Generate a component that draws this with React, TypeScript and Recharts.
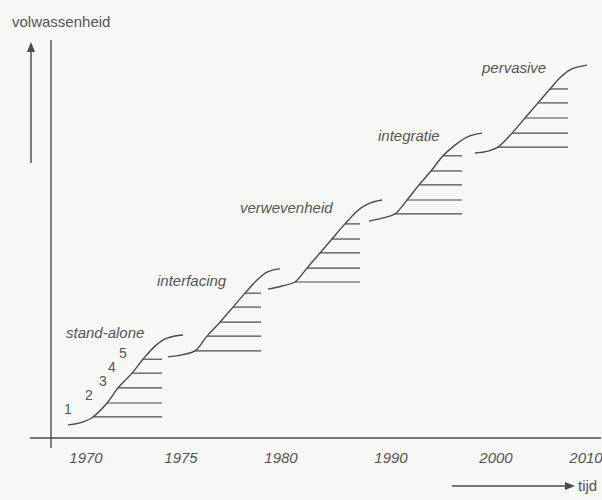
import React from "react";
import {
  LineChart,
  Line,
  XAxis,
  YAxis,
  ReferenceLine,
  ReferenceDot,
} from "recharts";

// x-axis tick positions and their year labels (the time axis is not linear)
const tickPos = [7, 26, 46, 68, 89, 107];
const tickYears = ["1970", "1975", "1980", "1990", "2000", "2010"];

// S-curves of the five stages (position in time, maturity)
const standAlone = [
  { x: 3.4, y: 3.3 }, { x: 5.8, y: 3.8 }, { x: 8.4, y: 5.3 }, { x: 11.2, y: 8.8 },
  { x: 13.4, y: 12.6 }, { x: 16.2, y: 16.3 }, { x: 18.4, y: 19.8 }, { x: 20.8, y: 23.1 },
  { x: 23.2, y: 25.1 }, { x: 26.4, y: 25.9 },
];
const interfacing = [
  { x: 23.4, y: 20.4 }, { x: 26.2, y: 20.9 }, { x: 28.8, y: 21.9 }, { x: 31.2, y: 25.6 },
  { x: 33.8, y: 29.1 }, { x: 36.4, y: 32.9 }, { x: 38.8, y: 36.4 }, { x: 41.2, y: 39.7 },
  { x: 43.2, y: 41.7 }, { x: 45.8, y: 42.5 },
];
const verweving = [
  { x: 43.4, y: 37.4 }, { x: 46.2, y: 38.2 }, { x: 48.8, y: 39.2 }, { x: 51.2, y: 42.7 },
  { x: 53.8, y: 46.5 }, { x: 56.2, y: 50.0 }, { x: 58.8, y: 53.8 }, { x: 61.2, y: 57.0 },
  { x: 63.4, y: 58.8 }, { x: 66.2, y: 59.8 },
];
const integratie = [
  { x: 63.6, y: 54.5 }, { x: 66.4, y: 55.3 }, { x: 68.8, y: 56.3 }, { x: 71.2, y: 59.8 },
  { x: 73.6, y: 63.6 }, { x: 76.0, y: 67.1 }, { x: 78.4, y: 70.9 }, { x: 80.8, y: 73.6 },
  { x: 83.2, y: 75.6 }, { x: 86.2, y: 76.6 },
];
const pervasive = [
  { x: 84.8, y: 71.6 }, { x: 87.4, y: 72.1 }, { x: 89.4, y: 73.1 }, { x: 92.2, y: 76.6 },
  { x: 94.8, y: 80.4 }, { x: 97.4, y: 84.2 }, { x: 99.8, y: 87.7 }, { x: 101.8, y: 90.5 },
  { x: 103.8, y: 92.5 }, { x: 107.2, y: 93.7 },
];

// horizontal steps under each curve: level, start and end
const standAloneSteps = [
  { y: 5.3, from: 8.4, to: 22.2 }, { y: 8.8, from: 11.2, to: 22.2 },
  { y: 12.6, from: 13.4, to: 22.2 }, { y: 16.3, from: 16.2, to: 22.2 },
  { y: 19.8, from: 18.4, to: 22.2 },
];
const interfacingSteps = [
  { y: 21.9, from: 28.8, to: 42 }, { y: 25.6, from: 31.2, to: 42 },
  { y: 29.1, from: 33.8, to: 42 }, { y: 32.9, from: 36.4, to: 42 },
  { y: 36.4, from: 38.8, to: 42 },
];
const verwevingSteps = [
  { y: 39.2, from: 48.8, to: 61.8 }, { y: 42.7, from: 51.2, to: 61.8 },
  { y: 46.5, from: 53.8, to: 61.8 }, { y: 50.0, from: 56.2, to: 61.8 },
  { y: 53.8, from: 58.8, to: 61.8 },
];
const integratieSteps = [
  { y: 56.3, from: 68.8, to: 82.2 }, { y: 59.8, from: 71.2, to: 82.2 },
  { y: 63.6, from: 73.6, to: 82.2 }, { y: 67.1, from: 76.0, to: 82.2 },
  { y: 70.9, from: 78.4, to: 82.2 },
];
const pervasiveSteps = [
  { y: 73.1, from: 89.4, to: 103.4 }, { y: 76.6, from: 92.2, to: 103.4 },
  { y: 80.4, from: 94.8, to: 103.4 }, { y: 84.2, from: 97.4, to: 103.4 },
  { y: 87.7, from: 99.8, to: 103.4 },
];

// stage names and the numbered levels
const stageLabels = [
  { text: "stand-alone", x: 3.0, y: 26.4 },
  { text: "interfacing", x: 21.2, y: 39.4 },
  { text: "verwevenheid", x: 37.8, y: 57.8 },
  { text: "integratie", x: 65.4, y: 75.9 },
  { text: "pervasive", x: 86.2, y: 93.0 },
];
const levelLabels = [
  { text: "1", x: 2.6, y: 7.3 },
  { text: "2", x: 6.8, y: 10.8 },
  { text: "3", x: 9.6, y: 14.3 },
  { text: "4", x: 11.4, y: 17.8 },
  { text: "5", x: 13.6, y: 21.4 },
];

const curves = [standAlone, interfacing, verweving, integratie, pervasive];
const steps = [
  ...standAloneSteps,
  ...interfacingSteps,
  ...verwevingSteps,
  ...integratieSteps,
  ...pervasiveSteps,
];

const ink = "#4a4a4a";
const textInk = "#555";
const font = "'Liberation Sans', Arial, sans-serif";

// text placed to the right of a (zero radius) reference dot
const dotText = (text: string, size: number, italic: boolean) => (props: any) => {
  const vb = props.viewBox || {};
  return (
    <text
      x={vb.x}
      y={vb.y}
      dy="0.35em"
      fill={textInk}
      fontSize={size}
      fontStyle={italic ? "italic" : "normal"}
      fontFamily={font}
    >
      {text}
    </text>
  );
};

export default function App() {
  return (
    <div
      style={{
        position: "absolute",
        left: 0,
        top: 0,
        width: 602,
        height: 500,
        background: "#f7f7f5",
        fontFamily: font,
      }}
    >
      <LineChart
        width={602}
        height={500}
        margin={{ top: 40, right: 1, left: 30, bottom: 22 }}
      >
        <XAxis
          type="number"
          dataKey="x"
          domain={[-4.2, 110]}
          allowDataOverflow
          ticks={tickPos}
          tickFormatter={(v) => tickYears[tickPos.indexOf(v)] ?? ""}
          axisLine={false}
          tickLine={false}
          tickSize={0}
          tickMargin={4}
          interval={0}
          tick={{ fill: textInk, fontSize: 15, fontStyle: "italic", fontFamily: font }}
        />
        <YAxis type="number" domain={[-2.5, 100]} allowDataOverflow hide />

        <ReferenceLine x={0} stroke={ink} strokeWidth={1.4} />
        <ReferenceLine y={0} stroke={ink} strokeWidth={1.4} />

        {steps.map((s, i) => (
          <ReferenceLine
            key={`step-${i}`}
            segment={[
              { x: s.from, y: s.y },
              { x: s.to, y: s.y },
            ]}
            stroke={ink}
            strokeWidth={1.2}
          />
        ))}

        {curves.map((c, i) => (
          <Line
            key={`curve-${i}`}
            data={c}
            dataKey="y"
            type="monotone"
            stroke={ink}
            strokeWidth={1.4}
            dot={false}
            activeDot={false}
            isAnimationActive={false}
          />
        ))}

        {stageLabels.map((l, i) => (
          <ReferenceDot
            key={`stage-${i}`}
            x={l.x}
            y={l.y}
            r={0}
            fill="none"
            stroke="none"
            label={{ content: dotText(l.text, 15, true) }}
          />
        ))}
        {levelLabels.map((l, i) => (
          <ReferenceDot
            key={`level-${i}`}
            x={l.x}
            y={l.y}
            r={0}
            fill="none"
            stroke="none"
            label={{ content: dotText(l.text, 14, false) }}
          />
        ))}
      </LineChart>

      {/* axis arrows and axis names */}
      <svg
        width={602}
        height={500}
        style={{ position: "absolute", left: 0, top: 0, pointerEvents: "none" }}
      >
        <line x1={31} y1={163} x2={31} y2={50} stroke={ink} strokeWidth={1.4} />
        <polygon points="31,42 27,52 35,52" fill={ink} />
        <text x={12} y={27} fontSize={15} fill={textInk} fontFamily={font}>
          volwassenheid
        </text>
        <line x1={452} y1={486} x2={567} y2={486} stroke={ink} strokeWidth={1.4} />
        <polygon points="575,486 565,482 565,490" fill={ink} />
        <text x={578} y={491} fontSize={15} fill={textInk} fontFamily={font}>
          tijd
        </text>
      </svg>
    </div>
  );
}
